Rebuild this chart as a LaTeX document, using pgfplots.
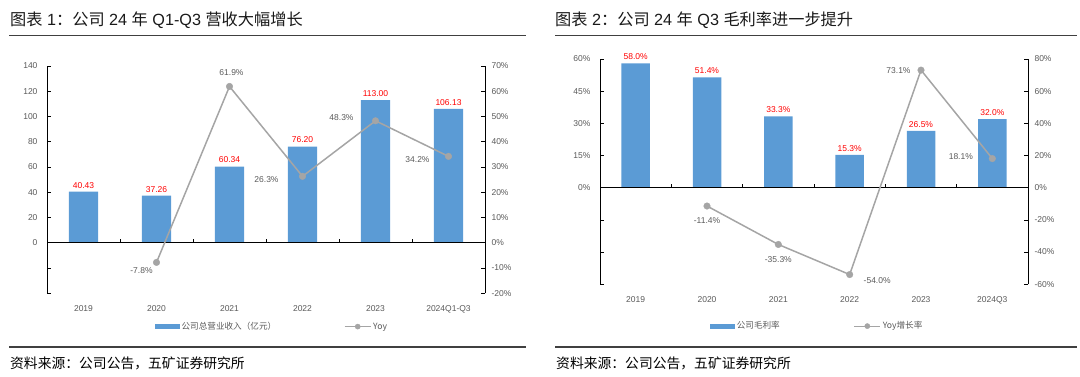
\documentclass[border=0pt]{standalone}
\usepackage{pgfplots}
\pgfplotsset{compat=1.18}
\usepackage{fontspec}
\setmainfont{Liberation Sans}
\newfontfamily\cjk{Noto Sans CJK SC}
\definecolor{barblue}{HTML}{5B9BD5}
\definecolor{linegray}{HTML}{A5A5A5}
\definecolor{lblred}{HTML}{FF0000}
\definecolor{txtgray}{HTML}{595959}
\definecolor{rulegray}{HTML}{404040}

\pgfplotsset{
  base/.style={
    scale only axis, clip=false,
    xmin=-0.5, xmax=5.5,
    ytick align=inside, major tick length=4pt,
    tick style={black, line width=0.6pt},
    axis line style={black, line width=0.8pt},
    ticklabel style={font=\fontsize{8.5}{10}\selectfont, text=txtgray},
  },
  barax/.style={
    base,
    axis y line*=left, axis x line*=bottom, x axis line style={draw=none},
    xtick={0,...,5}, major x tick style={draw=none},
    xticklabel style={yshift=-5pt},
    yticklabel style={xshift=-6pt},
    ybar, bar width=#1,
    nodes near coords, point meta=explicit symbolic,
    every node near coord/.append style={font=\fontsize{8.5}{10}\selectfont, text=lblred},
  },
  lineax/.style={
    base,
    axis y line*=right, axis x line=none, xtick=\empty,
    yticklabel style={xshift=3pt},
    legend cell align=left,
  },
  yoyline/.style={
    linegray, line width=1.5pt, mark=*, mark size=3.3pt,
    mark options={fill=linegray, draw=linegray, line width=0.4pt},
    legend image code/.code={\draw[mark repeat=2,mark phase=2,##1,line width=1pt, mark size=2.6pt] plot coordinates {(0pt,0pt) (13pt,0pt) (26pt,0pt)};},
  },
  yoylabels/.style={
    draw=none, mark=none, forget plot,
    nodes near coords, point meta=explicit symbolic,
    visualization depends on={\thisrow{dx}\as\dx},
    visualization depends on={\thisrow{dy}\as\dy},
    every node near coord/.append style={anchor=center, xshift=\dx pt, yshift=\dy pt,
      font=\fontsize{8.5}{10}\selectfont, text=txtgray},
  },
}

\begin{document}
\begin{tikzpicture}
\useasboundingbox (0pt,0pt) rectangle (1080pt,376pt);

% ---------------- Left panel ----------------
\node[anchor=west, inner sep=0pt, text=black!90] at (10pt,356pt)
  {\fontsize{16.2}{19}\selectfont{\cjk 图表} 1{\cjk ：公司} 24 {\cjk 年} Q1-Q3 {\cjk 营收大幅增长}};
\draw[rulegray, line width=1.5pt] (9pt,340.5pt) -- (526pt,340.5pt);
\draw[rulegray, line width=1.5pt] (9pt,29pt) -- (526pt,29pt);
\node[anchor=west, inner sep=0pt] at (10pt,12.5pt)
  {\cjk\fontsize{13.8}{16}\selectfont 资料来源：公司公告，五矿证券研究所};

\begin{axis}[barax=29.2pt, at={(47pt,82.8pt)}, anchor=south west, width=438pt, height=227.2pt,
  ymin=-40, ymax=140, ytick={-40,-20,...,140}, yticklabels={,,0,20,40,60,80,100,120,140},
  xticklabels={2019,2020,2021,2022,2023,2024Q1-Q3}]
\addplot[fill=barblue, draw=none] coordinates {
  (0,40.43) [40.43] (1,37.26) [37.26] (2,60.34) [60.34]
  (3,76.20) [76.20] (4,113.00) [113.00] (5,106.13) [106.13]};
\draw[black, line width=0.8pt] (axis cs:-0.5,0) -- (axis cs:5.5,0);
\pgfplotsinvokeforeach{0.5,1.5,2.5,3.5,4.5}{\draw[black,line width=0.6pt] (axis cs:#1,0) -- ++(0pt,4pt);}
\end{axis}

\begin{axis}[lineax, at={(47pt,82.8pt)}, anchor=south west, width=438pt, height=227.2pt,
  ymin=-20, ymax=70, ytick={-20,-10,...,70},
  yticklabels={-20\%,-10\%,0\%,10\%,20\%,30\%,40\%,50\%,60\%,70\%},
  legend style={at={(0.514,-0.147)}, anchor=center, draw=none, fill=none, inner sep=0pt,
    legend columns=2, font=\cjk\fontsize{8.6}{10}\selectfont, text=txtgray,
    /tikz/every even column/.append style={column sep=66pt}}]
\addlegendimage{legend image code/.code={\fill[barblue] (0pt,-2pt) rectangle (24pt,2pt);}}
\addlegendentry{公司总营业收入（亿元）}
\addplot[yoyline] coordinates {(1,-7.8) (2,61.9) (3,26.3) (4,48.3) (5,34.2)};
\addlegendentry{Yoy}
\addplot[yoylabels] table[x=x, y=y, meta=lbl, row sep=\\] {
x y lbl dx dy \\
1 -7.8 -7.8\% -15 -8.3 \\
2 61.9 61.9\% 2 14 \\
3 26.3 26.3\% -36 -3.7 \\
4 48.3 48.3\% -34 3.5 \\
5 34.2 34.2\% -31 -3.6 \\
};
\end{axis}

% ---------------- Right panel ----------------
\node[anchor=west, inner sep=0pt, text=black!90] at (555pt,356pt)
  {\fontsize{16.2}{19}\selectfont{\cjk 图表} 2{\cjk ：公司} 24 {\cjk 年} Q3 {\cjk 毛利率进一步提升}};
\draw[rulegray, line width=1.5pt] (555pt,340.5pt) -- (1077pt,340.5pt);
\draw[rulegray, line width=1.5pt] (555pt,29pt) -- (1077pt,29pt);
\node[anchor=west, inner sep=0pt] at (556pt,12.5pt)
  {\cjk\fontsize{13.8}{16}\selectfont 资料来源：公司公告，五矿证券研究所};

\begin{axis}[barax=28.5pt, at={(600pt,91.8pt)}, anchor=south west, width=428pt, height=225.2pt,
  ymin=-45, ymax=60, ytick={-45,-30,...,60}, yticklabels={,,,0\%,15\%,30\%,45\%,60\%},
  xticklabels={2019,2020,2021,2022,2023,2024Q3}]
\addplot[fill=barblue, draw=none] coordinates {
  (0,58.0) [58.0\%] (1,51.4) [51.4\%] (2,33.3) [33.3\%]
  (3,15.3) [15.3\%] (4,26.5) [26.5\%] (5,32.0) [32.0\%]};
\draw[black, line width=0.8pt] (axis cs:-0.5,0) -- (axis cs:5.5,0);
\pgfplotsinvokeforeach{0.5,1.5,2.5,3.5,4.5}{\draw[black,line width=0.6pt] (axis cs:#1,0) -- ++(0pt,4pt);}
\end{axis}

\begin{axis}[lineax, at={(600pt,91.8pt)}, anchor=south west, width=428pt, height=225.2pt,
  ymin=-60, ymax=80, ytick={-60,-40,...,80},
  yticklabels={-60\%,-40\%,-20\%,0\%,20\%,40\%,60\%,80\%},
  legend style={at={(0.508,-0.186)}, anchor=center, draw=none, fill=none, inner sep=0pt,
    legend columns=2, font=\cjk\fontsize{8.6}{10}\selectfont, text=txtgray,
    /tikz/every even column/.append style={column sep=72pt}}]
\addlegendimage{legend image code/.code={\fill[barblue] (0pt,-2pt) rectangle (24pt,2pt);}}
\addlegendentry{公司毛利率}
\addplot[yoyline] coordinates {(1,-11.4) (2,-35.3) (3,-54.0) (4,73.1) (5,18.1)};
\addlegendentry{Yoy增长率}
\addplot[yoylabels] table[x=x, y=y, meta=lbl, row sep=\\] {
x y lbl dx dy \\
1 -11.4 -11.4\% 0 -15 \\
2 -35.3 -35.3\% 0 -15.5 \\
3 -54.0 -54.0\% 27.5 -6 \\
4 73.1 73.1\% -22.5 0 \\
5 18.1 18.1\% -31.5 2 \\
};
\end{axis}
\end{tikzpicture}
\end{document}
